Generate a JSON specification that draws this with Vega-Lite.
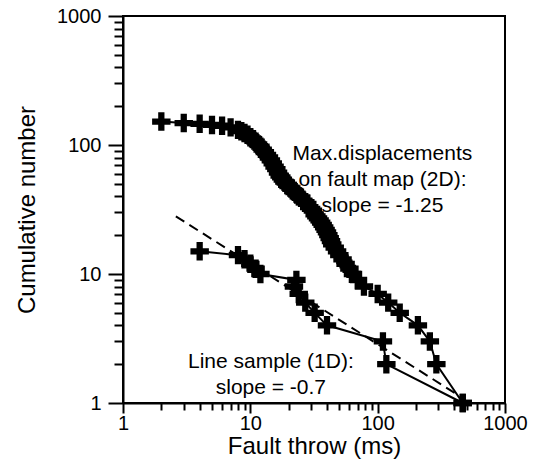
{
  "$schema": "https://vega.github.io/schema/vega-lite/v6.json",
  "width": 382,
  "height": 387,
  "autosize": {"type": "none"},
  "padding": {"left": 123, "top": 16, "right": 28, "bottom": 65},
  "background": "white",
  "config": {
    "font": "Liberation Sans",
    "view": {"stroke": "black", "strokeWidth": 2},
    "axis": {
      "grid": false,
      "domainColor": "black",
      "domainWidth": 2,
      "tickColor": "black",
      "tickWidth": 2,
      "labelColor": "black",
      "labelFontSize": 20,
      "labelFlush": false,
      "labelOverlap": false,
      "titleColor": "black",
      "titleFontSize": 24,
      "titleFontWeight": "normal"
    }
  },
  "datasets": {
    "map2d": [
      {"throw": 2, "n": 152}, {"throw": 3, "n": 148}, {"throw": 4, "n": 146}, {"throw": 5, "n": 143},
      {"throw": 6, "n": 141}, {"throw": 7, "n": 137}, {"throw": 8, "n": 131}, {"throw": 8.5, "n": 128},
      {"throw": 9, "n": 124}, {"throw": 9.5, "n": 120}, {"throw": 10, "n": 115}, {"throw": 10.5, "n": 111},
      {"throw": 11, "n": 106}, {"throw": 11.5, "n": 101}, {"throw": 12, "n": 97}, {"throw": 12.5, "n": 92},
      {"throw": 13, "n": 88}, {"throw": 13.5, "n": 84}, {"throw": 14, "n": 80}, {"throw": 14.5, "n": 76},
      {"throw": 15, "n": 72}, {"throw": 15.5, "n": 68}, {"throw": 16, "n": 65}, {"throw": 16.5, "n": 61},
      {"throw": 17, "n": 58}, {"throw": 17.5, "n": 56}, {"throw": 18, "n": 54}, {"throw": 18.5, "n": 52},
      {"throw": 19, "n": 51}, {"throw": 19.5, "n": 49}, {"throw": 20, "n": 48}, {"throw": 21, "n": 46},
      {"throw": 22, "n": 44}, {"throw": 23, "n": 42}, {"throw": 24, "n": 40}, {"throw": 25, "n": 39},
      {"throw": 26, "n": 37}, {"throw": 27, "n": 36}, {"throw": 28, "n": 35}, {"throw": 29, "n": 33},
      {"throw": 30, "n": 32}, {"throw": 31, "n": 31}, {"throw": 32, "n": 29}, {"throw": 33, "n": 28},
      {"throw": 34, "n": 27}, {"throw": 35, "n": 26}, {"throw": 36, "n": 25}, {"throw": 37, "n": 24},
      {"throw": 38, "n": 23}, {"throw": 39, "n": 22}, {"throw": 40, "n": 21}, {"throw": 41, "n": 20},
      {"throw": 42, "n": 19}, {"throw": 43, "n": 18}, {"throw": 44, "n": 17}, {"throw": 46, "n": 16},
      {"throw": 48, "n": 15}, {"throw": 50, "n": 14}, {"throw": 53, "n": 13}, {"throw": 56, "n": 12},
      {"throw": 60, "n": 11}, {"throw": 64, "n": 10}, {"throw": 70, "n": 9}, {"throw": 78, "n": 8},
      {"throw": 100, "n": 7}, {"throw": 121, "n": 6}, {"throw": 149, "n": 5}, {"throw": 207, "n": 4},
      {"throw": 257, "n": 3}, {"throw": 289, "n": 2}, {"throw": 466, "n": 1}
    ],
    "line1d": [
      {"throw": 4, "n": 15}, {"throw": 8, "n": 14}, {"throw": 9, "n": 13}, {"throw": 10, "n": 12},
      {"throw": 11, "n": 11}, {"throw": 12, "n": 10}, {"throw": 23, "n": 9}, {"throw": 22, "n": 8},
      {"throw": 24, "n": 7}, {"throw": 27, "n": 6}, {"throw": 32, "n": 5}, {"throw": 40, "n": 4},
      {"throw": 110, "n": 3}, {"throw": 117, "n": 2}, {"throw": 466, "n": 1}
    ],
    "fit1d": [
      {"throw": 2.6, "n": 28},
      {"throw": 460, "n": 1.1}
    ],
    "notes": [
      {"throw": 109, "n": 84.7, "label": "Max.displacements\non fault map (2D):\nslope = -1.25"},
      {"throw": 14.5, "n": 2.07, "label": "Line sample (1D):\nslope = -0.7"}
    ]
  },
  "layer": [
    {
      "data": {"name": "map2d"},
      "mark": {"type": "line", "color": "black", "strokeWidth": 2},
      "encoding": {
        "x": {
          "field": "throw", "type": "quantitative",
          "scale": {"type": "log", "domain": [1, 1000]},
          "axis": {
            "orient": "bottom",
            "values": [1, 10, 100, 1000],
            "format": "d",
            "tickSize": 10,
            "labelPadding": 0,
            "title": "Fault throw (ms)",
            "titlePadding": 1
          }
        },
        "y": {
          "field": "n", "type": "quantitative",
          "scale": {"type": "log", "domain": [1, 1000]},
          "axis": {
            "orient": "left",
            "values": [1, 10, 100, 1000],
            "format": "d",
            "tickSize": 15,
            "labelPadding": 7,
            "title": "Cumulative number",
            "titlePadding": 17
          }
        },
        "order": {"field": "n", "sort": "descending"}
      }
    },
    {
      "data": {"name": "map2d"},
      "mark": {
        "type": "point",
        "shape": "M-1,-0.34H-0.34V-1H0.34V-0.34H1V0.34H0.34V1H-0.34V0.34H-1Z",
        "size": 340,
        "filled": true,
        "color": "black",
        "opacity": 1
      },
      "encoding": {
        "x": {
          "field": "throw", "type": "quantitative",
          "scale": {"type": "log", "domain": [1, 1000]},
          "axis": {
            "orient": "bottom",
            "values": [2, 3, 4, 5, 6, 7, 8, 9, 20, 30, 40, 50, 60, 70, 80, 90, 200, 300, 400, 500, 600, 700, 800, 900],
            "labels": false,
            "domain": false,
            "tickSize": 7,
            "title": null
          }
        },
        "y": {
          "field": "n", "type": "quantitative",
          "scale": {"type": "log", "domain": [1, 1000]},
          "axis": {
            "orient": "left",
            "values": [2, 3, 4, 5, 6, 7, 8, 9, 20, 30, 40, 50, 60, 70, 80, 90, 200, 300, 400, 500, 600, 700, 800, 900],
            "labels": false,
            "domain": false,
            "tickSize": 9,
            "title": null
          }
        }
      }
    },
    {
      "data": {"name": "fit1d"},
      "mark": {"type": "line", "color": "black", "strokeWidth": 2, "strokeDash": [10, 6]},
      "encoding": {
        "x": {"field": "throw", "type": "quantitative", "scale": {"type": "log", "domain": [1, 1000]}, "axis": null},
        "y": {"field": "n", "type": "quantitative", "scale": {"type": "log", "domain": [1, 1000]}, "axis": null}
      }
    },
    {
      "data": {"name": "line1d"},
      "mark": {"type": "line", "color": "black", "strokeWidth": 2},
      "encoding": {
        "x": {"field": "throw", "type": "quantitative", "scale": {"type": "log", "domain": [1, 1000]}, "axis": null},
        "y": {"field": "n", "type": "quantitative", "scale": {"type": "log", "domain": [1, 1000]}, "axis": null},
        "order": {"field": "n", "sort": "descending"}
      }
    },
    {
      "data": {"name": "line1d"},
      "mark": {
        "type": "point",
        "shape": "M-1,-0.34H-0.34V-1H0.34V-0.34H1V0.34H0.34V1H-0.34V0.34H-1Z",
        "size": 340,
        "filled": true,
        "color": "black",
        "opacity": 1
      },
      "encoding": {
        "x": {"field": "throw", "type": "quantitative", "scale": {"type": "log", "domain": [1, 1000]}, "axis": null},
        "y": {"field": "n", "type": "quantitative", "scale": {"type": "log", "domain": [1, 1000]}, "axis": null}
      }
    },
    {
      "data": {"name": "notes"},
      "mark": {
        "type": "text",
        "align": "center",
        "baseline": "middle",
        "lineBreak": "\n",
        "lineHeight": 26,
        "fontSize": 21,
        "color": "black"
      },
      "encoding": {
        "x": {"field": "throw", "type": "quantitative", "scale": {"type": "log", "domain": [1, 1000]}, "axis": null},
        "y": {"field": "n", "type": "quantitative", "scale": {"type": "log", "domain": [1, 1000]}, "axis": null},
        "text": {"field": "label"}
      }
    }
  ],
  "resolve": {"axis": {"x": "independent", "y": "independent"}}
}
